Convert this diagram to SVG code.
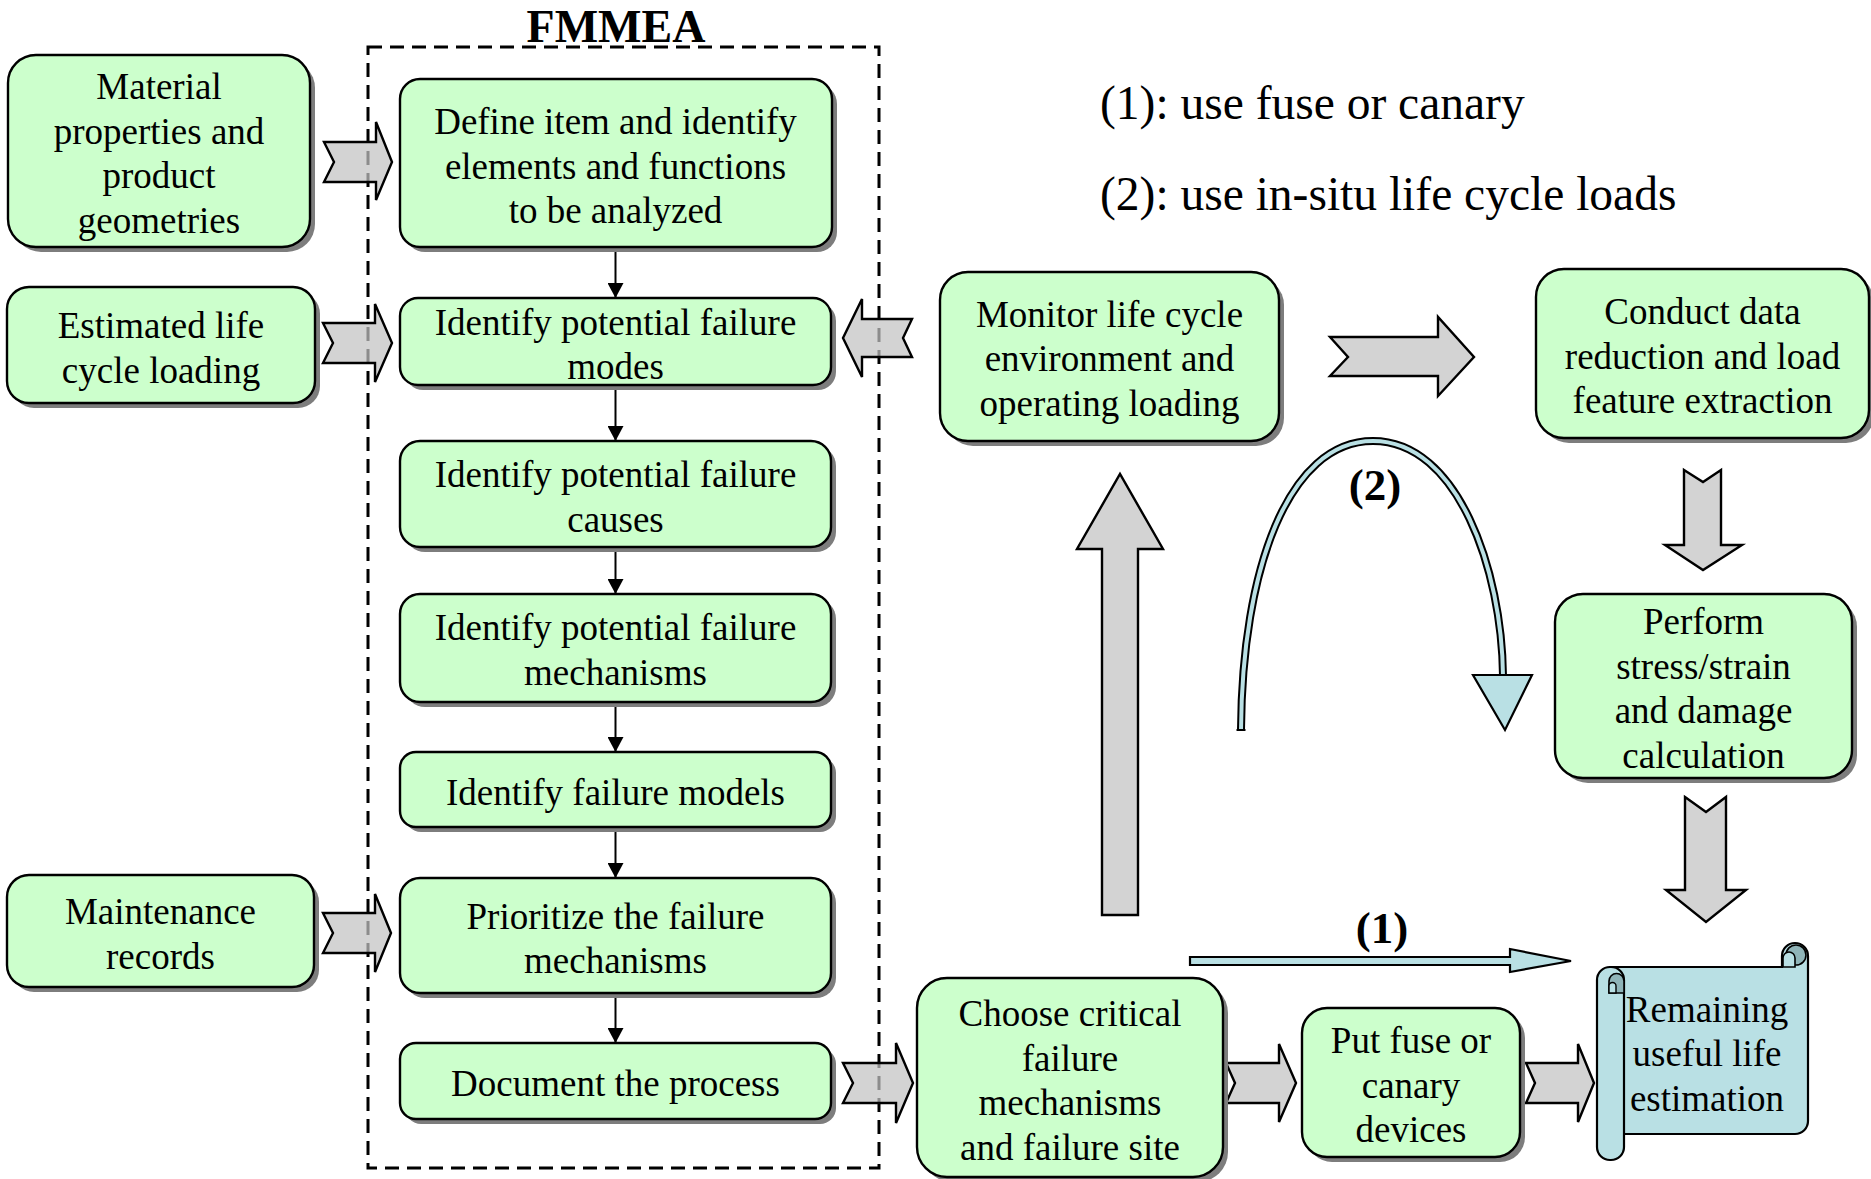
<svg xmlns="http://www.w3.org/2000/svg" width="1871" height="1179" viewBox="0 0 1871 1179">
  <style>
    .box { fill: #ccffcc; stroke: #000; stroke-width: 2.4; }
    .sh { fill: #7d7d7d; }
    .t { font-family: "Liberation Serif", "Times New Roman", serif; font-size: 37px; text-anchor: middle; fill: #000; transform: translateY(1.5px); }
    .lbl { font-family: "Liberation Serif", "Times New Roman", serif; font-size: 45px; font-weight: bold; text-anchor: middle; fill: #000; }
    .note { font-family: "Liberation Serif", "Times New Roman", serif; font-size: 47.5px; fill: #000; }
    .blk { fill: #c2c2c2; fill-opacity: 0.72; stroke: #000; stroke-width: 2.4; stroke-linejoin: miter; }
    .flow { stroke: #000; stroke-width: 2; fill: none; marker-end: url(#head); }
    .teal { fill: #b9e0e4; stroke: #000; stroke-width: 2.2; }
    .curl { fill: #8fb4b8; stroke: #000; stroke-width: 1.6; }
  </style>
  <defs>
    <marker id="head" viewBox="0 0 15 16" refX="15" refY="8" markerWidth="15" markerHeight="16" markerUnits="userSpaceOnUse" orient="auto">
      <path d="M0,0 L15,8 L0,16 Z" fill="#000"/>
    </marker>
  </defs>

  <rect width="1871" height="1179" fill="#fff"/>

  <!-- FMMEA frame -->
  <g id="fmmea-frame">
    <rect x="368" y="47" width="511" height="1121" fill="none" stroke="#000" stroke-width="3" stroke-dasharray="14 8"/>
    <text class="lbl" x="616" y="42" style="font-size:46px">FMMEA</text>
  </g>

  <!-- notes -->
  <g id="notes">
    <text class="note" x="1100" y="119">(1): use fuse or canary</text>
    <text class="note" x="1100" y="210">(2): use in-situ life cycle loads</text>
  </g>

  <!-- connectors -->
  <g id="connectors">
    <line class="flow" x1="615.5" y1="248" x2="615.5" y2="298"/>
    <line class="flow" x1="615.5" y1="386" x2="615.5" y2="441"/>
    <line class="flow" x1="615.5" y1="548" x2="615.5" y2="594"/>
    <line class="flow" x1="615.5" y1="703" x2="615.5" y2="752"/>
    <line class="flow" x1="615.5" y1="828" x2="615.5" y2="878"/>
    <line class="flow" x1="615.5" y1="994" x2="615.5" y2="1043"/>

    <!-- block arrows into the FMMEA steps -->
    <path class="blk" d="M324,142 H376 V122 L392,162 L376,200 V182 H324 L334,162 Z"/>
    <path class="blk" d="M323,323 H375 V304 L392,343 L375,382 V363 H323 L333,343 Z"/>
    <path class="blk" d="M323,913 H375 V894 L391,933 L375,972 V953 H323 L333,933 Z"/>
    <path class="blk" d="M912,319 H862 V299 L843,338 L862,377 V357 H912 L903,338 Z"/>
    <path class="blk" d="M843,1063 H896 V1043 L913,1083 L896,1123 V1103 H843 L853,1083 Z"/>

    <!-- bottom row -->
    <path class="blk" d="M1226,1063 H1279 V1044 L1296,1083 L1279,1122 V1103 H1226 L1235,1083 Z"/>
    <path class="blk" d="M1526,1063 H1578 V1044 L1594,1083 L1578,1122 V1103 H1526 L1535,1083 Z"/>

    <!-- monitoring loop -->
    <path class="blk" d="M1330,337 H1438 V317 L1474,357 L1438,396 V376 H1330 L1348,357 Z"/>
    <path class="blk" d="M1684,470 L1703,482 L1721,470 V545 H1742 L1703,570 L1665,545 H1684 Z"/>
    <path class="blk" d="M1685,797 L1706,812 L1726,797 V890 H1746 L1706,922 L1666,890 H1685 Z"/>
    <path class="blk" d="M1102,915 V549 H1077 L1120,474 L1163,549 H1138 V915 Z"/>

    <!-- (1) shortcut -->
    <path class="teal" d="M1190,957 H1510 V949 L1571,961 L1510,972 V965 H1190 Z"/>
    <text class="lbl" x="1382" y="943">(1)</text>

    <!-- (2) loop -->
    <path d="M1241,730 C1242,570 1288,441 1373,441 C1458,441 1502,570 1503,676" fill="none" stroke="#000" stroke-width="8"/>
    <path d="M1241,730 C1242,570 1288,441 1373,441 C1458,441 1502,570 1503,676" fill="none" stroke="#b9e0e4" stroke-width="4"/>
    <line x1="1236.5" y1="730" x2="1245.5" y2="730" stroke="#000" stroke-width="2"/>
    <path class="teal" d="M1473,675 H1532 L1505,730 Z"/>
    <text class="lbl" x="1375" y="500">(2)</text>
  </g>

  <!-- inputs -->
  <g id="material">
    <rect class="sh" x="13" y="60" width="302" height="192" rx="28"/>
    <rect class="box" x="8" y="55" width="302" height="192" rx="28"/>
    <text class="t" x="159" y="97.5">Material</text>
    <text class="t" x="159" y="142.2">properties and</text>
    <text class="t" x="159" y="186.9">product</text>
    <text class="t" x="159" y="231.6">geometries</text>
  </g>
  <g id="estimated">
    <rect class="sh" x="12" y="292" width="308" height="116" rx="22"/>
    <rect class="box" x="7" y="287" width="308" height="116" rx="22"/>
    <text class="t" x="161" y="336">Estimated life</text>
    <text class="t" x="161" y="381">cycle loading</text>
  </g>
  <g id="maintenance">
    <rect class="sh" x="12" y="880" width="307" height="112" rx="22"/>
    <rect class="box" x="7" y="875" width="307" height="112" rx="22"/>
    <text class="t" x="160.5" y="922">Maintenance</text>
    <text class="t" x="160.5" y="967">records</text>
  </g>

  <!-- FMMEA steps -->
  <g id="define">
    <rect class="sh" x="405" y="84" width="432" height="168" rx="20"/>
    <rect class="box" x="400" y="79" width="432" height="168" rx="20"/>
    <text class="t" x="615.5" y="132">Define item and identify</text>
    <text class="t" x="615.5" y="177">elements and functions</text>
    <text class="t" x="615.5" y="221">to be analyzed</text>
  </g>
  <g id="modes">
    <rect class="sh" x="405" y="303" width="431" height="87" rx="18"/>
    <rect class="box" x="400" y="298" width="431" height="87" rx="18"/>
    <text class="t" x="615.5" y="333">Identify potential failure</text>
    <text class="t" x="615.5" y="377">modes</text>
  </g>
  <g id="causes">
    <rect class="sh" x="405" y="446" width="431" height="106" rx="20"/>
    <rect class="box" x="400" y="441" width="431" height="106" rx="20"/>
    <text class="t" x="615.5" y="485">Identify potential failure</text>
    <text class="t" x="615.5" y="530">causes</text>
  </g>
  <g id="mechanisms">
    <rect class="sh" x="405" y="599" width="431" height="108" rx="20"/>
    <rect class="box" x="400" y="594" width="431" height="108" rx="20"/>
    <text class="t" x="615.5" y="638">Identify potential failure</text>
    <text class="t" x="615.5" y="683">mechanisms</text>
  </g>
  <g id="models">
    <rect class="sh" x="405" y="757" width="431" height="75" rx="16"/>
    <rect class="box" x="400" y="752" width="431" height="75" rx="16"/>
    <text class="t" x="615.5" y="803">Identify failure models</text>
  </g>
  <g id="prioritize">
    <rect class="sh" x="405" y="883" width="431" height="115" rx="20"/>
    <rect class="box" x="400" y="878" width="431" height="115" rx="20"/>
    <text class="t" x="615.5" y="927">Prioritize the failure</text>
    <text class="t" x="615.5" y="971">mechanisms</text>
  </g>
  <g id="document">
    <rect class="sh" x="405" y="1048" width="431" height="76" rx="16"/>
    <rect class="box" x="400" y="1043" width="431" height="76" rx="16"/>
    <text class="t" x="615.5" y="1094">Document the process</text>
  </g>

  <!-- monitoring path -->
  <g id="monitor">
    <rect class="sh" x="945" y="277" width="339" height="169" rx="28"/>
    <rect class="box" x="940" y="272" width="339" height="169" rx="28"/>
    <text class="t" x="1109.5" y="325">Monitor life cycle</text>
    <text class="t" x="1109.5" y="369">environment and</text>
    <text class="t" x="1109.5" y="414">operating loading</text>
  </g>
  <g id="conduct">
    <rect class="sh" x="1541" y="274" width="333" height="169" rx="28"/>
    <rect class="box" x="1536" y="269" width="333" height="169" rx="28"/>
    <text class="t" x="1702.5" y="322">Conduct data</text>
    <text class="t" x="1702.5" y="367">reduction and load</text>
    <text class="t" x="1702.5" y="411">feature extraction</text>
  </g>
  <g id="perform">
    <rect class="sh" x="1560" y="599" width="297" height="184" rx="28"/>
    <rect class="box" x="1555" y="594" width="297" height="184" rx="28"/>
    <text class="t" x="1703.5" y="632">Perform</text>
    <text class="t" x="1703.5" y="677">stress/strain</text>
    <text class="t" x="1703.5" y="721">and damage</text>
    <text class="t" x="1703.5" y="766">calculation</text>
  </g>

  <!-- bottom row -->
  <g id="choose">
    <rect class="sh" x="922" y="983" width="306" height="199" rx="30"/>
    <rect class="box" x="917" y="978" width="306" height="199" rx="30"/>
    <text class="t" x="1070" y="1024">Choose critical</text>
    <text class="t" x="1070" y="1069">failure</text>
    <text class="t" x="1070" y="1113">mechanisms</text>
    <text class="t" x="1070" y="1158">and failure site</text>
  </g>
  <g id="fuse">
    <rect class="sh" x="1307" y="1013" width="218" height="149" rx="25"/>
    <rect class="box" x="1302" y="1008" width="218" height="149" rx="25"/>
    <text class="t" x="1411" y="1051">Put fuse or</text>
    <text class="t" x="1411" y="1096">canary</text>
    <text class="t" x="1411" y="1140">devices</text>
  </g>
  <g id="rul">
    <!-- sheet with top-right curl -->
    <path class="teal" d="M1610,967 H1782 V956 A13,13 0 0 1 1808,956 V1121 A13,13 0 0 1 1795,1134 H1610 Z"/>
    <circle class="curl" cx="1796" cy="955" r="10"/>
    <path class="teal" style="stroke-width:1.6" d="M1783,967 V958 A6,6 0 0 1 1795,958 V967 Z"/>
    <!-- left roll -->
    <rect class="teal" x="1597" y="967" width="27" height="193" rx="13"/>
    <path class="curl" d="M1609,993 V981 A7.5,7.5 0 0 1 1624,981 V993 Z"/>
    <path class="teal" style="stroke-width:1.4" d="M1609,993 V986 A3.5,3.5 0 0 1 1616,986 V993 Z"/>
    <text class="t" x="1707" y="1020">Remaining</text>
    <text class="t" x="1707" y="1064">useful life</text>
    <text class="t" x="1707" y="1109">estimation</text>
  </g>
</svg>
